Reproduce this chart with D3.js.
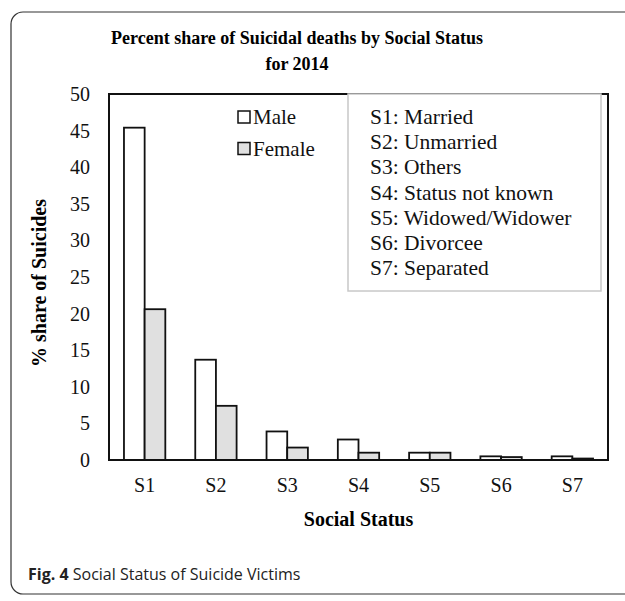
<!DOCTYPE html>
<html>
<head>
<meta charset="utf-8">
<script src="https://cdn.jsdelivr.net/npm/d3@7"></script>
<style>
  html, body { margin: 0; padding: 0; background: #fff; }
  svg { display: block; }
</style>
</head>
<body>
<svg id="chart" width="625" height="601"></svg>
<script>
// Social status categories and their share of suicides (%), 2014
const categories = ["S1", "S2", "S3", "S4", "S5", "S6", "S7"];
const seriesNames = ["Male", "Female"];
const maleShare = [45.4, 13.7, 3.9, 2.8, 1.0, 0.5, 0.5];
const femaleShare = [20.6, 7.4, 1.7, 1.0, 1.0, 0.4, 0.2];
const yTicks = [0, 5, 10, 15, 20, 25, 30, 35, 40, 45, 50];
const statusKey = [
  "S1: Married",
  "S2: Unmarried",
  "S3: Others",
  "S4: Status not known",
  "S5: Widowed/Widower",
  "S6: Divorcee",
  "S7: Separated"
];
const titleLines = ["Percent share of Suicidal deaths by Social Status", "for 2014"];

const serif = "'Liberation Serif', 'Times New Roman', serif";
const fills = { Male: "#ffffff", Female: "#e0e0e0" };

const svg = d3.select("#chart");

// outer figure frame with rounded corners (runs off the right edge)
svg.append("rect")
  .attr("x", 11).attr("y", 12)
  .attr("width", 660).attr("height", 582)
  .attr("rx", 12).attr("ry", 12)
  .attr("fill", "none")
  .attr("stroke", "#333")
  .attr("stroke-width", 1.2);

const plot = { left: 109, right: 608, top: 94, bottom: 460 };

const x0 = d3.scaleBand()
  .domain(categories)
  .range([plot.left, plot.right])
  .paddingInner(0.42)
  .paddingOuter(0.21);

const x1 = d3.scaleBand()
  .domain(seriesNames)
  .range([0, x0.bandwidth()]);

const y = d3.scaleLinear()
  .domain([0, 50])
  .range([plot.bottom, plot.top]);

// title
svg.append("text")
  .attr("x", 297).attr("y", 44)
  .attr("text-anchor", "middle")
  .attr("font-family", serif)
  .attr("font-weight", "bold")
  .attr("font-size", 18)
  .selectAll("tspan")
  .data(titleLines)
  .join("tspan")
  .attr("x", 297)
  .attr("dy", (d, i) => i === 0 ? 0 : 26)
  .text(d => d);

// y axis tick labels
const yAxis = d3.axisLeft(y).tickValues(yTicks).tickSize(0).tickPadding(19);
svg.append("g")
  .attr("transform", `translate(${plot.left},0)`)
  .call(yAxis)
  .call(g => g.select(".domain").remove())
  .selectAll("text")
  .attr("font-family", serif)
  .attr("font-size", 20)
  .attr("fill", "#111");

// x axis tick labels
const xAxis = d3.axisBottom(x0).tickSize(0).tickPadding(18);
svg.append("g")
  .attr("transform", `translate(0,${plot.bottom})`)
  .call(xAxis)
  .call(g => g.select(".domain").remove())
  .selectAll("text")
  .attr("font-family", serif)
  .attr("font-size", 20)
  .attr("fill", "#111");

// axis titles
svg.append("text")
  .attr("x", (plot.left + plot.right) / 2)
  .attr("y", 526)
  .attr("text-anchor", "middle")
  .attr("font-family", serif)
  .attr("font-weight", "bold")
  .attr("font-size", 20)
  .text("Social Status");

svg.append("text")
  .attr("transform", `translate(46,${(plot.top + plot.bottom) / 2 + 6}) rotate(-90)`)
  .attr("text-anchor", "middle")
  .attr("font-family", serif)
  .attr("font-weight", "bold")
  .attr("font-size", 20)
  .text("% share of Suicides");

// bars
const rows = categories.map((c, i) => ({ cat: c, Male: maleShare[i], Female: femaleShare[i] }));
svg.append("g")
  .selectAll("g")
  .data(rows)
  .join("g")
  .attr("transform", d => `translate(${x0(d.cat)},0)`)
  .selectAll("rect")
  .data(d => seriesNames.map(s => ({ s, v: d[s] })))
  .join("rect")
  .attr("x", d => x1(d.s))
  .attr("y", d => y(d.v))
  .attr("width", x1.bandwidth())
  .attr("height", d => y(0) - y(d.v))
  .attr("fill", d => fills[d.s])
  .attr("stroke", "#111")
  .attr("stroke-width", 1.8);

// plot area border
svg.append("rect")
  .attr("x", plot.left).attr("y", plot.top)
  .attr("width", plot.right - plot.left)
  .attr("height", plot.bottom - plot.top)
  .attr("fill", "none")
  .attr("stroke", "#111")
  .attr("stroke-width", 2);

// series legend
const leg = svg.append("g").attr("transform", "translate(238,0)");
seriesNames.forEach((s, i) => {
  const cy = 117 + i * 31.5;
  leg.append("rect")
    .attr("x", 0).attr("y", cy - 6)
    .attr("width", 12).attr("height", 12)
    .attr("fill", fills[s])
    .attr("stroke", "#111")
    .attr("stroke-width", 1.5);
  leg.append("text")
    .attr("x", 15).attr("y", cy + 7)
    .attr("font-family", serif)
    .attr("font-size", 21)
    .attr("fill", "#111")
    .text(s);
});

// status key box
const key = svg.append("g");
key.append("rect")
  .attr("x", 348).attr("y", 94)
  .attr("width", 253).attr("height", 197)
  .attr("fill", "#fff")
  .attr("stroke", "#c8c8c8")
  .attr("stroke-width", 1.5);
key.selectAll("text")
  .data(statusKey)
  .join("text")
  .attr("x", 370)
  .attr("y", (d, i) => 124 + i * 25.2)
  .attr("font-family", serif)
  .attr("font-size", 21.5)
  .attr("fill", "#111")
  .text(d => d);

// figure caption
const cap = svg.append("text")
  .attr("x", 28).attr("y", 580)
  .attr("font-family", "'Open Sans', 'Noto Sans', sans-serif")
  .attr("font-size", 16)
  .attr("fill", "#222");
cap.append("tspan").attr("font-weight", "bold").text("Fig. 4");
cap.append("tspan").text(" Social Status of Suicide Victims");
</script>
</body>
</html>
